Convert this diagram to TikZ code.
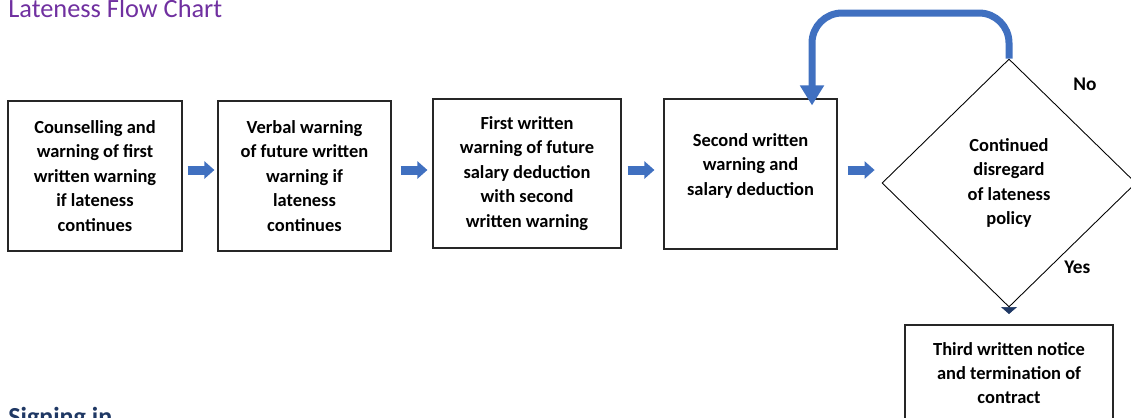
\documentclass[tikz,border=0pt]{standalone}
\usepackage{fontspec}
\setmainfont{Carlito}
\usepackage{tikz}
\usetikzlibrary{calc,shapes.geometric,arrows.meta}

\definecolor{titlepurple}{HTML}{7030A0}
\definecolor{arrowblue}{HTML}{4070C0}
\definecolor{headnavy}{HTML}{1F3864}

\begin{document}
\begin{tikzpicture}[x=0.02cm, y=-0.02cm,
    box/.style = {draw=black!85, line width=0.7pt, inner sep=0pt, align=center,
      font=\fontsize{10.5}{13.9}\selectfont\bfseries},
    decision/.style = {diamond, draw=black, line width=0.5pt, inner sep=0pt, align=center,
      font=\fontsize{10.5}{13.9}\selectfont\bfseries},
    flowarrow/.style = {draw=arrowblue, line width=0.18cm, -{Triangle[width=0.34cm,length=0.2cm]}},
    looparrow/.style = {draw=arrowblue, line width=0.14cm, rounded corners=0.6cm,
      -{Triangle[width=0.46cm,length=0.4cm]}},
    yesarrow/.style = {draw=headnavy, line width=0.4pt, -{Triangle[width=0.32cm,length=0.14cm]}}
  ]
    \clip (0,0) rectangle (1131,417);

    \node[anchor=base west, inner sep=0pt, text=titlepurple, font=\fontsize{15}{18}\selectfont] (title) at (8,17) {Lateness Flow Chart};

    \node[box, minimum width=3.48cm, minimum height=3cm] (b1) at (95,176) {Counselling and\\warning of first\\written warning\\if lateness\\continues};
    \node[box, minimum width=3.46cm, minimum height=3cm] (b2) at (304.5,176) {Verbal warning\\of future written\\warning if\\lateness\\continues};
    \node[box, minimum width=3.76cm, minimum height=2.98cm] (b3) at (527,173.5) {First written\\warning of future\\salary deduction\\with second\\written warning};
    \node[box, minimum width=3.46cm, minimum height=3cm] (b4) at (750.5,174) {\raisebox{0.16cm}[\height][\depth]{\begin{tabular}{@{}c@{}}Second written\\warning and\\salary deduction\end{tabular}}};
    \node[decision, minimum width=5.08cm, minimum height=4.96cm] (dia) at (1009,183) {Continued\\disregard\\of lateness\\policy};
    \node[box, minimum width=4.16cm, minimum height=1.92cm] (b5) at (1009,373) {Third written notice\\and termination of\\contract};

    \node[anchor=base west, inner sep=0pt, font=\fontsize{11}{13}\selectfont\bfseries] (no) at (1073,90) {No};
    \node[anchor=base west, inner sep=0pt, font=\fontsize{11}{13}\selectfont\bfseries] (yes) at (1064,273) {Yes};

    \coordinate (row) at (0,170);
    \draw[flowarrow, shorten <=0.1cm, shorten >=0.06cm] (b1.east |- row) -- (b2.west |- row);
    \draw[flowarrow, shorten <=0.18cm, shorten >=0.1cm] (b2.east |- row) -- (b3.west |- row);
    \draw[flowarrow, shorten <=0.12cm, shorten >=0.18cm] (b3.east |- row) -- (b4.west |- row);
    \draw[flowarrow, shorten <=0.2cm, shorten >=0.14cm] (b4.east |- row) -- (dia.west |- row);

    \coordinate (looptop) at (812,13);
    \draw[looparrow] (dia.north) |- (looptop) -- ($(looptop |- b4.north)+(0,7)$);

    \coordinate (yesend) at (1009,314);
    \draw[yesarrow] (dia.south) -- (yesend);

    \node[anchor=base west, inner sep=0pt, text=headnavy, font=\fontsize{14.8}{18}\selectfont\bfseries] (signing) at (8,425) {Signing in};

    % \draw[help lines] (0,0) grid[step=50] (1131,417);
\end{tikzpicture}
\end{document}
